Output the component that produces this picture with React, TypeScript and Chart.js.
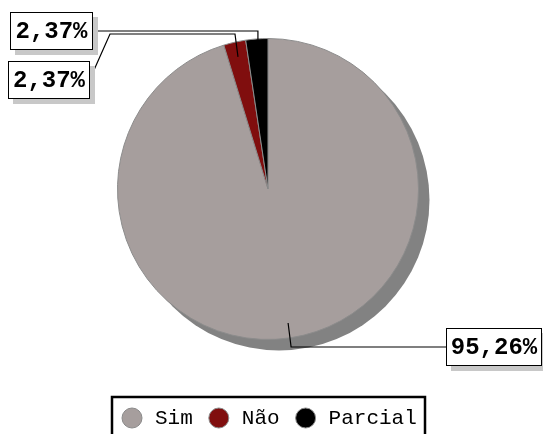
import React, { useEffect, useRef } from "react";
import { Chart, registerables } from "chart.js";

Chart.register(...registerables);

const categories = ["Sim", "Não", "Parcial"];
const values = [95.26, 2.37, 2.37];
const valueLabels = ["95,26%", "2,37%", "2,37%"];
const colors = ["#a69e9d", "#800e0e", "#000000"];

const MONO = '"Liberation Mono", "Courier New", monospace';

const decorPlugin = {
  id: "decor",
  beforeDatasetsDraw(chart: any) {
    const arc = chart.getDatasetMeta(0).data[0];
    if (!arc) return;
    const { x, y, outerRadius } = arc.getProps(["x", "y", "outerRadius"], true);
    const ctx = chart.ctx;
    ctx.save();
    ctx.fillStyle = "#828282";
    ctx.beginPath();
    ctx.arc(x + 11, y + 11, outerRadius, 0, Math.PI * 2);
    ctx.fill();
    ctx.restore();
  },
  afterDraw(chart: any) {
    const ctx = chart.ctx;
    const meta = chart.getDatasetMeta(0);
    const anchors = meta.data.map((a: any) => {
      const p = a.getProps(["x", "y", "startAngle", "endAngle", "outerRadius"], true);
      const mid = (p.startAngle + p.endAngle) / 2;
      return { x: p.x + Math.cos(mid) * p.outerRadius * 0.9, y: p.y + Math.sin(mid) * p.outerRadius * 0.9 };
    });
    const cx = meta.data[0].x;
    const cy = meta.data[0].y;

    const drawBox = (text: string, left: number, top: number, w: number, h: number) => {
      ctx.fillStyle = "#c8c8c8";
      ctx.fillRect(left + 5, top + 5, w, h);
      ctx.fillStyle = "#ffffff";
      ctx.fillRect(left, top, w, h);
      ctx.strokeStyle = "#000";
      ctx.lineWidth = 1;
      ctx.strokeRect(left + 0.5, top + 0.5, w - 1, h - 1);
      ctx.fillStyle = "#000";
      ctx.font = "bold 24px " + MONO;
      ctx.textAlign = "center";
      ctx.textBaseline = "middle";
      ctx.fillText(text, left + w / 2, top + h / 2 + 1);
    };

    ctx.save();
    ctx.strokeStyle = "#000";
    ctx.lineWidth = 1.2;
    // Sim leader
    const a0 = anchors[0];
    ctx.beginPath();
    ctx.moveTo(a0.x, a0.y);
    ctx.lineTo(a0.x + 3, cy + 158);
    ctx.lineTo(cx + 178, cy + 158);
    ctx.stroke();
    // Não leader
    const a1 = anchors[1];
    ctx.beginPath();
    ctx.moveTo(a1.x, a1.y);
    ctx.lineTo(a1.x - 3, cy - 155);
    ctx.lineTo(cx - 158, cy - 155);
    ctx.lineTo(cx - 178, cy - 110);
    ctx.stroke();
    // Parcial leader
    const a2 = anchors[2];
    ctx.beginPath();
    ctx.moveTo(a2.x, a2.y);
    ctx.lineTo(a2.x, cy - 158);
    ctx.lineTo(cx - 175, cy - 158);
    ctx.stroke();

    drawBox(valueLabels[0], cx + 178, cy + 139, 96, 38);
    drawBox(valueLabels[2], cx - 258, cy - 177, 83, 38);
    drawBox(valueLabels[1], cx - 260, cy - 128, 82, 38);

    // legend
    const lgLeft = 112, lgTop = 397, lgRight = 425;
    ctx.lineWidth = 2.5;
    ctx.strokeStyle = "#000";
    ctx.strokeRect(lgLeft, lgTop, lgRight - lgLeft, 60);
    ctx.font = "21px " + MONO;
    ctx.textAlign = "left";
    ctx.textBaseline = "middle";
    let xPos = 122;
    const ly = 418;
    categories.forEach((c, i) => {
      ctx.beginPath();
      ctx.arc(xPos + 10, ly, 10, 0, Math.PI * 2);
      ctx.fillStyle = colors[i];
      ctx.fill();
      ctx.lineWidth = 1;
      ctx.strokeStyle = "#8a8a8a";
      ctx.stroke();
      ctx.fillStyle = "#000";
      ctx.fillText(c, xPos + 33, ly);
      xPos += 33 + ctx.measureText(c).width + 16;
    });
    ctx.restore();
  },
};

export default function App() {
  const ref = useRef<HTMLCanvasElement>(null);
  useEffect(() => {
    document.body.style.margin = "0";
    const chart = new Chart(ref.current!, {
      type: "pie",
      data: {
        labels: categories,
        datasets: [
          {
            data: values,
            backgroundColor: colors,
            borderColor: "#8c8c8c",
            borderWidth: 1,
            hoverOffset: 0,
          },
        ],
      },
      options: {
        responsive: false,
        animation: false,
        layout: { padding: { left: 117, right: 124, top: 38, bottom: 94 } },
        plugins: { legend: { display: false }, tooltip: { enabled: false } },
      },
      plugins: [decorPlugin],
    });
    return () => chart.destroy();
  }, []);
  return <canvas ref={ref} width={543} height={434} style={{ display: "block" }} />;
}
